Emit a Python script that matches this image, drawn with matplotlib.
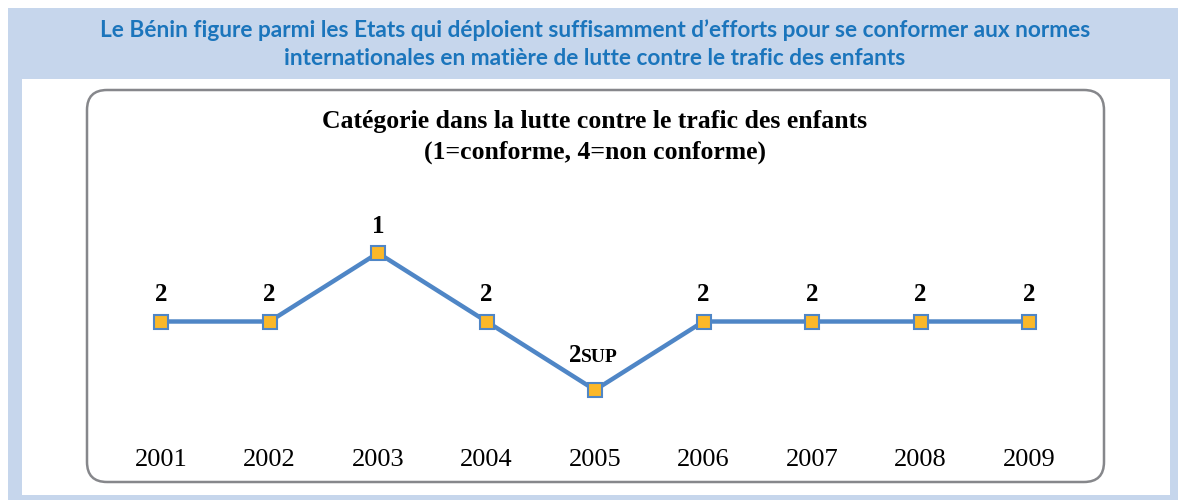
import matplotlib.pyplot as plt
from matplotlib.patches import FancyBboxPatch, Rectangle

years = ['2001', '2002', '2003', '2004', '2005', '2006', '2007', '2008', '2009']
category = [2, 2, 1, 2, 3, 2, 2, 2, 2]   # 3 = "2SUP" (tier 2 watch list)
labels = ['2', '2', '1', '2', '2', '2', '2', '2', '2']

header = ("Le Bénin figure parmi les Etats qui déploient suffisamment d\u2019efforts pour se conformer aux normes\n"
          "internationales en matière de lutte contre le trafic des enfants")
title = "Catégorie dans la lutte contre le trafic des enfants\n(1=conforme, 4=non conforme)"

W, H = 1178, 500
fig = plt.figure(figsize=(W / 100, H / 100), dpi=100)

# background panels
fig.patches.append(Rectangle((8 / W, 0), 1 - 8 / W, 1 - 8 / H, transform=fig.transFigure,
                             facecolor='#c6d6ec', edgecolor='none', zorder=0))
fig.patches.append(Rectangle((22 / W, 5 / H), (1170 - 22) / W, (495 - 79) / H,
                             transform=fig.transFigure, facecolor='white', edgecolor='none', zorder=1))
fig.patches.append(FancyBboxPatch((87 / W, 1 - 482 / H), (1104 - 87) / W, (482 - 90) / H,
                                  boxstyle='round,pad=0,rounding_size=0.017', mutation_aspect=W / H,
                                  transform=fig.transFigure, facecolor='none', edgecolor='#86878b',
                                  linewidth=1.8, zorder=2))

fig.text(595 / W, 1 - 44 / H, header, ha='center', va='center', fontsize=16.3, fontweight='bold',
         family='Lato', color='#1b75bc', linespacing=1.38)
fig.text(595 / W, 1 - 137 / H, title, ha='center', va='center', fontsize=18.5, fontweight='bold',
         family='Liberation Serif', color='black', linespacing=1.45)

# axes: x 0..8 -> 161..1029 px, y 1..3 -> 253..390 px
step = (1029 - 161) / 8
unit = (390 - 253) / 2
left = 161 - 0.5 * step
top = 253 - 0.8 * unit
bottom = 390 + 0.8 * unit
ax = fig.add_axes([left / W, 1 - bottom / H, 9 * step / W, (bottom - top) / H])
ax.set_zorder(3)
ax.patch.set_visible(False)

x = list(range(len(years)))
ax.plot(x, category, color='#4f86c6', linewidth=3.2, marker='s', markersize=10.5,
        markerfacecolor='#fbb829', markeredgecolor='#4f86c6', markeredgewidth=1.5)
ax.set_xlim(-0.5, 8.5)
ax.set_ylim(3.8, 0.2)

for i, (v, lab) in enumerate(zip(category, labels)):
    if v == 3:
        ax.annotate('2', (i, v), xytext=(-14, 28), textcoords='offset pixels', ha='right',
                    va='baseline', fontsize=18, fontweight='bold', family='Liberation Serif')
        ax.annotate('SUP', (i, v), xytext=(-14, 28), textcoords='offset pixels', ha='left',
                    va='baseline', fontsize=14, fontweight='bold', family='Liberation Serif')
    else:
        ax.annotate(lab, (i, v), xytext=(0, 27), textcoords='offset pixels', ha='center',
                    va='center', fontsize=18, fontweight='bold', family='Liberation Serif')

ax.set_xticks(x)
ax.set_xticklabels(years, family='Liberation Serif', fontsize=19)
ax.tick_params(axis='x', length=0, pad=3)
ax.set_yticks([])
for s in ax.spines.values():
    s.set_visible(False)

fig.savefig('out.png', dpi=100)
